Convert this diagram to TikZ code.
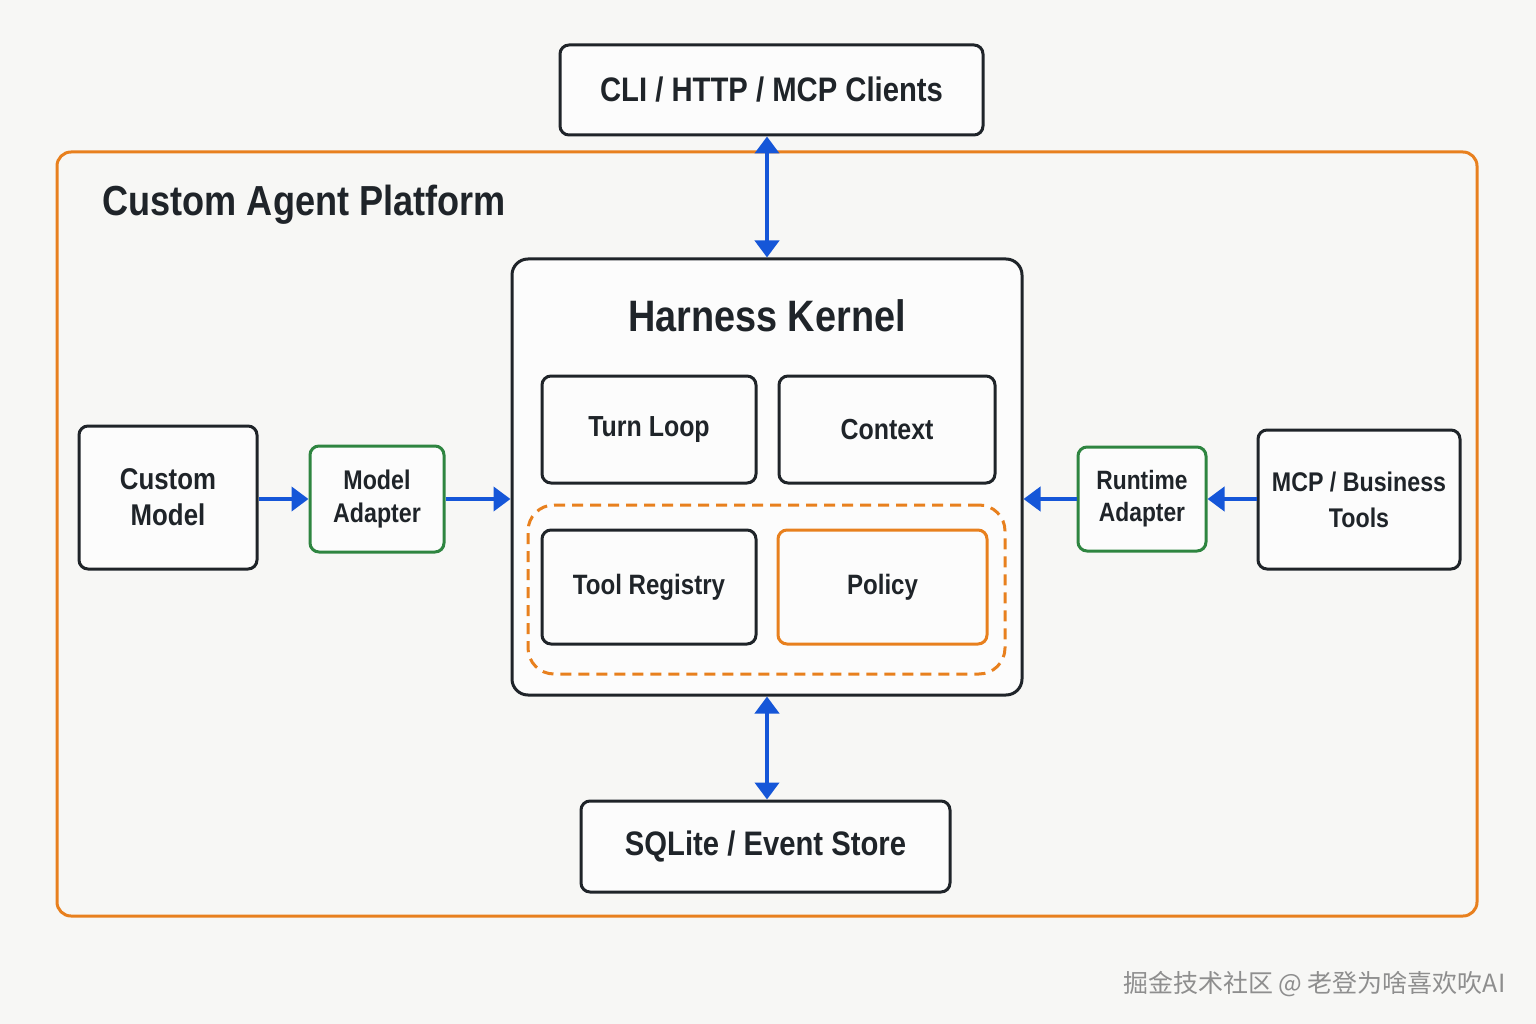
\documentclass[tikz,border=0pt]{standalone}
\usepackage{fontspec}
\setmainfont{Liberation Sans}[FakeStretch=0.86]
\newfontfamily\cjkfont{Noto Sans CJK SC}
\usepackage{xcolor}
\usepackage{tikz}
\usetikzlibrary{arrows.meta,positioning,backgrounds}

\definecolor{ink}{HTML}{1F2429}
\definecolor{bg}{HTML}{F7F7F5}
\definecolor{boxfill}{HTML}{FCFCFC}
\definecolor{orng}{HTML}{E8801E}
\definecolor{grn}{HTML}{2E8540}
\definecolor{blu}{HTML}{1556D8}
\definecolor{wmgray}{HTML}{8E8E8E}
\newcommand{\fsz}[2]{\fontsize{#1}{#2}\selectfont}

\begin{document}
\begin{tikzpicture}[x=1pt,y=-1pt,
   box/.style={draw=ink,line width=3pt,rounded corners=9pt,fill=boxfill,
               text=ink,align=center,inner sep=0pt},
   adp/.style={box,draw=grn},
   pol/.style={box,draw=orng},
   grp/.style={draw=orng,line width=3pt,rounded corners=26pt,
               dash pattern=on 11pt off 7pt},
   frame/.style={draw=orng,line width=3pt,rounded corners=14pt},
   arr/.style={draw=blu,line width=4pt,-{Triangle[length=17pt,width=24pt]}},
   darr/.style={arr,{Triangle[length=17pt,width=24pt]}-{Triangle[length=17pt,width=24pt]}}]
  \useasboundingbox (0,0) rectangle (1536,1024);
  \fill[bg] (0,0) rectangle (1536,1024);

  % platform frame and its title
  \node[frame,minimum width=1420pt,minimum height=764pt] (plat) at (767,534) {};
  \node[anchor=base west,text=ink,font=\bfseries\fsz{42}{48}] (ptitle) at (99,216) {Custom Agent Platform};

  % outside boxes
  \node[box,minimum width=423pt,minimum height=90pt,font=\bfseries\fsz{34}{40}] (cli) at (771.5,90) {CLI / HTTP / MCP Clients};
  \node[box,minimum width=369pt,minimum height=91pt,font=\bfseries\fsz{34}{40}] (store) at (765.5,846.5) {SQLite / Event Store};

  % kernel
  \node[box,rounded corners=16pt,minimum width=510pt,minimum height=436pt] (kern) at (767,477) {};
  \node[text=ink,font=\bfseries\fsz{44}{50}] (ktitle) at (767,316) {Harness Kernel};
  \node[grp,minimum width=477pt,minimum height=169pt] (grp) at (766.5,589.5) {};
  \node[box,minimum width=214pt,minimum height=107pt,font=\bfseries\fsz{29}{34}] (loop) at (649,429.5) {\raisebox{-2pt}{Turn Loop}};
  \node[box,minimum width=216pt,minimum height=107pt,font=\bfseries\fsz{29}{34}] (ctx) at (887,429.5) {Context};
  \node[box,minimum width=214pt,minimum height=114pt,font=\bfseries\fsz{28}{34}] (reg) at (649,587) {\raisebox{-2pt}{Tool Registry}};
  \node[pol,minimum width=209pt,minimum height=114pt,font=\bfseries\fsz{28}{34}] (pol) at (882.5,587) {\raisebox{-2pt}{Policy}};

  % left side
  \node[box,minimum width=178pt,minimum height=143pt,font=\bfseries\fsz{30}{36}] (cmodel) at (168,497.5) {Custom\\Model};
  \node[adp,minimum width=134pt,minimum height=106pt,font=\bfseries\fsz{27}{33}] (madp) at (377,499) {Model\\Adapter};

  % right side
  \node[adp,minimum width=128pt,minimum height=104pt,font=\bfseries\fsz{26.5}{32}] (radp) at (1142,499) {Runtime\\Adapter};
  \node[box,minimum width=202pt,minimum height=139pt,font=\bfseries\fsz{27}{36}] (tools) at (1359,499.5) {MCP / Business\\Tools};

  % arrows
  \draw[darr] (kern.north |- cli.south) -- (kern.north);
  \draw[darr] (kern.south) -- (kern.south |- store.north);
  \draw[arr] (cmodel.east |- madp.west) -- (madp.west);
  \draw[arr] (madp.east) -- (madp.east -| kern.west);
  \draw[arr] (radp.west) -- (radp.west -| kern.east);
  \draw[arr] (tools.west |- radp.east) -- (radp.east);

  \node[anchor=east,text=wmgray,font=\cjkfont\fsz{25}{28}] (wm) at (1509,984) {掘金技术社区 @ 老登为啥喜欢吹AI};
\end{tikzpicture}
\end{document}
